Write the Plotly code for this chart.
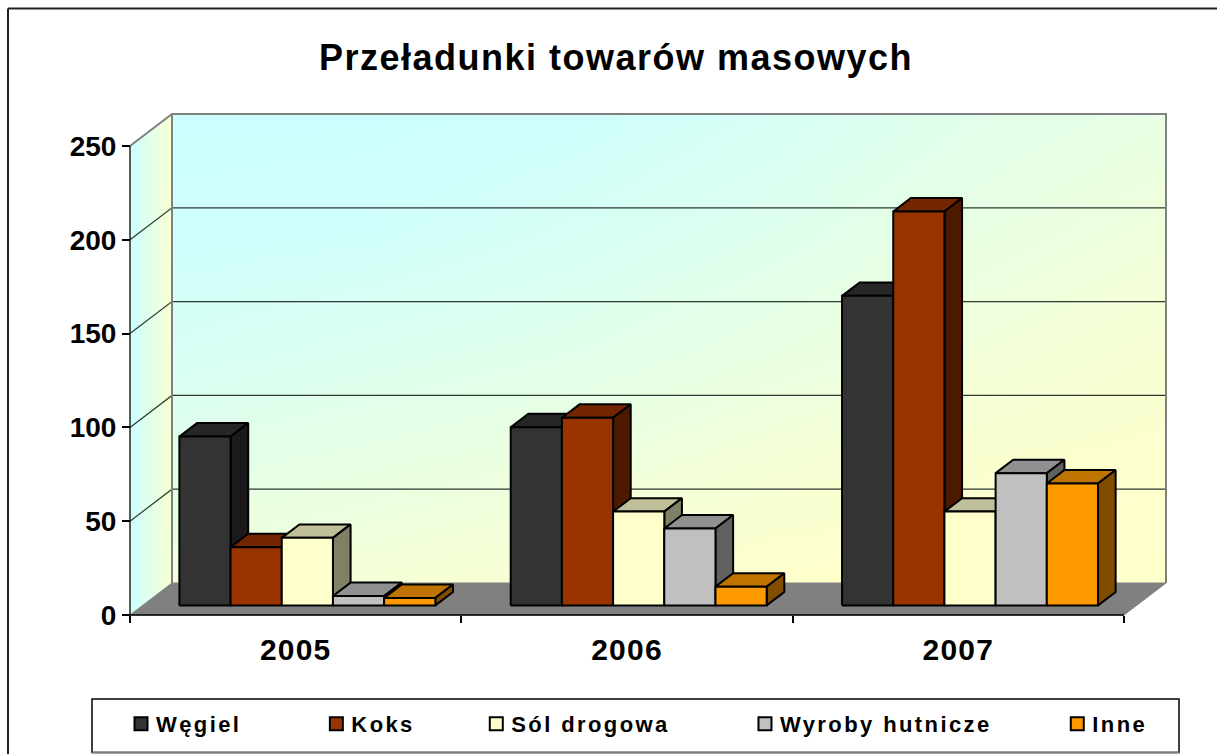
import plotly.graph_objects as go

TITLE = "Przeładunki towarów masowych"
YEARS = ["2005", "2006", "2007"]
SERIES = ["Węgiel", "Koks", "Sól drogowa", "Wyroby hutnicze", "Inne"]
WEGIEL = [90, 95, 165]
KOKS = [31, 100, 210]
SOL = [36, 50, 50]
WYROBY = [5, 41, 70.5]
INNE = [4, 10, 65]
VALUES = [WEGIEL, KOKS, SOL, WYROBY, INNE]
Y_TICKS = [0, 50, 100, 150, 200, 250]

FRONT = ["#333333", "#993300", "#FFFFCC", "#C0C0C0", "#FF9900"]
TOP = ["#262626", "#732600", "#BFBF99", "#909090", "#BF7300"]
SIDE = ["#1A1A1A", "#4D1A00", "#808066", "#606060", "#804D00"]

# Back-wall colour on a coarse grid (bottom row first)
WALL_Z = [
    [0.70, 0.80, 0.90, 1.00, 1.00, 1.00],
    [0.45, 0.55, 0.65, 0.80, 0.92, 0.97],
    [0.20, 0.30, 0.40, 0.55, 0.72, 0.85],
    [0.05, 0.08, 0.20, 0.35, 0.55, 0.70],
    [0.00, 0.00, 0.05, 0.20, 0.40, 0.55],
]
WALL_SCALE = [[0, "#CCFFFF"], [1, "#FFFFCC"]]

W, H = 1217, 754
PX_L, PX_R, PX_T, PX_B = 130, 1124, 146, 615      # front plane of the plot box
PAD = 10                                          # spare room so edge lines are not clipped
X_UNIT = (PX_R - PX_L) / len(YEARS)               # px per category
Y_UNIT = (PX_B - PX_T) / 250                      # px per value unit
DEPTH_X, DEPTH_Y = 42 / X_UNIT, 32 / Y_UNIT       # full depth of the box in axis units
BAR_NEAR, BAR_FAR = 0.30, 0.72                    # bar front/back as a share of the depth
GROUP_START, BAR_WIDTH = 0.111, 0.1545


def poly(fig, xs, ys, fill, line="#000000", lw=2):
    fig.add_trace(go.Scatter(
        x=xs + xs[:1], y=ys + ys[:1], mode="lines", fill="toself", fillcolor=fill,
        line=dict(color=line, width=lw), xaxis="x2", yaxis="y2",
        showlegend=False, hoverinfo="skip"))


def path(fig, xs, ys, color, lw):
    fig.add_trace(go.Scatter(
        x=xs, y=ys, mode="lines", line=dict(color=color, width=lw), xaxis="x2", yaxis="y2",
        showlegend=False, hoverinfo="skip"))


fig = go.Figure()

# Back wall (own hidden axes, painted first)
fig.add_trace(go.Heatmap(
    z=WALL_Z, x=[0, 0.2, 0.4, 0.6, 0.8, 1], y=[0, 0.25, 0.5, 0.75, 1],
    colorscale=WALL_SCALE, zmin=0, zmax=1, zsmooth="best", showscale=False, hoverinfo="skip"))

n = len(YEARS)
# Side wall
fig.add_trace(go.Scatter(
    x=[0, DEPTH_X, DEPTH_X, 0, 0], y=[0, DEPTH_Y, 250 + DEPTH_Y, 250, 0], mode="lines",
    fill="toself", fillgradient=dict(type="horizontal", colorscale=[[0, "#CCFFFF"], [1, "#F8FFD2"]]),
    line=dict(width=0), xaxis="x2", yaxis="y2", showlegend=False, hoverinfo="skip"))
# Floor
poly(fig, [0, DEPTH_X, n + DEPTH_X, n], [0, DEPTH_Y, DEPTH_Y, 0], "#808080", line="#808080", lw=1)
# Gridlines
for v in Y_TICKS[1:-1]:
    path(fig, [0, DEPTH_X, n + DEPTH_X], [v, v + DEPTH_Y, v + DEPTH_Y], "#2F3A34", 1.2)
# Wall outline
path(fig, [0, DEPTH_X, n + DEPTH_X, n + DEPTH_X], [250, 250 + DEPTH_Y, 250 + DEPTH_Y, DEPTH_Y], "#808080", 2)
path(fig, [DEPTH_X, DEPTH_X], [DEPTH_Y, 250 + DEPTH_Y], "#808080", 2)
# Axis lines
path(fig, [0, 0], [0, 250], "#1A2A20", 1.5)
path(fig, [0, n], [0, 0], "#000000", 1.5)

# Bars, painted back-to-front
nx, ny = DEPTH_X * BAR_NEAR, DEPTH_Y * BAR_NEAR
fx, fy = DEPTH_X * BAR_FAR, DEPTH_Y * BAR_FAR
for c in range(n):
    for s, vals in enumerate(VALUES):
        v = vals[c]
        x0 = c + GROUP_START + s * BAR_WIDTH + nx
        x1 = x0 + BAR_WIDTH
        dx, dy = fx - nx, fy - ny
        y0 = ny
        y1 = ny + v
        poly(fig, [x0, x1, x1 + dx, x0 + dx], [y1, y1, y1 + dy, y1 + dy], TOP[s])
        poly(fig, [x1, x1 + dx, x1 + dx, x1], [y0, y0 + dy, y1 + dy, y1], SIDE[s])
        poly(fig, [x0, x1, x1, x0], [y0, y0, y1, y1], FRONT[s])

# Legend entries; trailing no-break spaces reproduce the uneven entry spacing
LEGEND_PAD = [13, 10, 15, 15, 3]
for s, name in enumerate(SERIES):
    fig.add_trace(go.Scatter(
        x=[None], y=[None], mode="markers", name=name + "\u00a0" * LEGEND_PAD[s], xaxis="x2", yaxis="y2",
        marker=dict(symbol="square", size=13, color=FRONT[s], line=dict(color="#000000", width=2))))

FONT = "Liberation Sans, Arial, sans-serif"
fig.update_layout(
    width=W, height=H, margin=dict(l=0, r=0, t=0, b=0, autoexpand=False), autosize=False,
    paper_bgcolor="#FFFFFF", plot_bgcolor="rgba(0,0,0,0)",
    font=dict(family=FONT, color="#000000"),
    xaxis=dict(domain=[172 / W, 1166 / W], range=[0, 1], visible=False, fixedrange=True),
    yaxis=dict(domain=[1 - 583 / H, 1 - 114 / H], range=[0, 1], visible=False, fixedrange=True),
    xaxis2=dict(
        domain=[(PX_L - PAD) / W, (PX_R + 42 + PAD) / W],
        range=[-PAD / X_UNIT, n + DEPTH_X + PAD / X_UNIT],
        anchor="free", position=1 - PX_B / H, showgrid=False, zeroline=False, showline=False,
        tickmode="array", tickvals=[0.5, 1.5, 2.5], ticktext=[f"<b>{y}</b>" for y in YEARS],
        ticks="", tickfont=dict(size=30, family=FONT), ticklabelstandoff=14,
        minor=dict(tickmode="array", tickvals=[0, 1, 2, 3], ticks="outside", ticklen=7,
                   tickcolor="#000000", tickwidth=1.5),
    ),
    yaxis2=dict(
        domain=[1 - (PX_B + PAD) / H, 1 - (PX_T - 32 - PAD) / H],
        range=[-PAD / Y_UNIT, 250 + DEPTH_Y + PAD / Y_UNIT],
        anchor="free", position=PX_L / W, showgrid=False, zeroline=False, showline=False,
        tickmode="array", tickvals=Y_TICKS, ticktext=[f"<b>{v}</b>" for v in Y_TICKS],
        ticks="outside", ticklen=8, tickcolor="#000000", tickwidth=1.5, tickfont=dict(size=28, family=FONT),
    ),
    title=dict(text=f"<b>{TITLE}</b>", x=616 / W, xanchor="center", y=1 - 57 / H, yanchor="middle",
               font=dict(size=36, family=FONT, color="#000000")),
    legend=dict(orientation="h", x=121 / W, xanchor="left", y=1 - 745 / H, yanchor="bottom",
                bgcolor="rgba(0,0,0,0)", borderwidth=0, font=dict(size=22, family=FONT, weight="bold"),
                itemclick=False, itemdoubleclick=False),
    shapes=[
        dict(type="rect", xref="paper", yref="paper", x0=92 / W, x1=1179 / W, y0=1 - 752.5 / H, y1=1 - 699 / H,
             line=dict(color="#000000", width=1.5), fillcolor="#FFFFFF", layer="below"),
        dict(type="line", xref="paper", yref="paper", x0=92 / W, x1=1179 / W, y0=1 - 752.5 / H, y1=1 - 752.5 / H,
             line=dict(color="#808080", width=2), layer="below"),
        dict(type="line", xref="paper", yref="paper", x0=8 / W, x1=1, y0=1 - 8.5 / H, y1=1 - 8.5 / H,
             line=dict(color="#222222", width=2), layer="below"),
        dict(type="line", xref="paper", yref="paper", x0=8 / W, x1=8 / W, y0=0, y1=1 - 8.5 / H,
             line=dict(color="#222222", width=2), layer="below"),
    ],
)

POST = """
document.body.style.margin='0';document.body.style.overflow='hidden';
document.querySelectorAll('.gtitle').forEach(t=>t.style.letterSpacing='1.5px');
document.querySelectorAll('.legendtext').forEach(t=>{t.style.letterSpacing='2.4px';
  t.textContent=t.textContent.trim();
  t.setAttribute('x', parseFloat(t.getAttribute('x'))-5);});
document.querySelectorAll('.xtick text, .x2tick text').forEach(t=>t.style.letterSpacing='1.2px');
"""
fig.write_html("out.html", config={"displayModeBar": False}, post_script=POST)
